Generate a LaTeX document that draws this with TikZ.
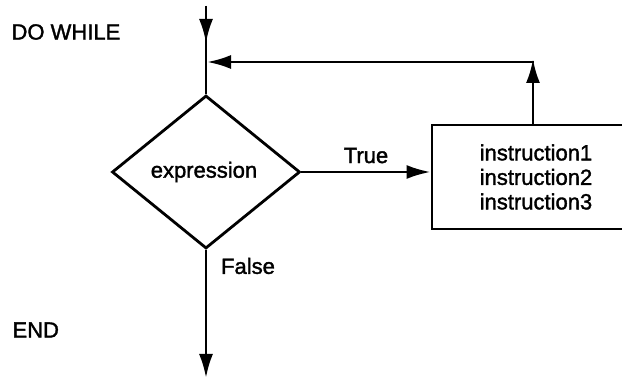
\documentclass[tikz,border=0pt]{standalone}
\usepackage{fontspec}
\setmainfont{Liberation Sans}
\newfontfamily\lblfont[FakeBold=1.6]{Liberation Sans}
\usetikzlibrary{shapes.geometric,arrows.meta}
\begin{document}
\begin{tikzpicture}[x=1pt,y=-1pt,
  every node/.style={font=\lblfont\fontsize{22}{24.5}\selectfont},
  ln/.style={line width=2.8pt},
  arr/.style={ln,-{Latex[length=24pt,width=14pt]}},
  dec/.style={draw,ln,diamond,inner sep=0pt,minimum width=188pt,minimum height=153pt},
  instbox/.style={draw,ln,minimum width=208pt,minimum height=104pt,inner sep=0pt,align=left}]
\useasboundingbox (0,0) rectangle (622,379);
\clip (0,0) rectangle (622,379);
\node[anchor=west] (dowhile) at (8,32) {DO WHILE};
\node[anchor=west] (endl) at (9,330) {END};
\node[dec] (d) at (206,172) {};
\node (expr) at (204,172) {expression};
\node[instbox] (b) at (536,177) {instruction1\\instruction2\\instruction3};
\coordinate (start) at (206,6);
\coordinate (a1) at (206,43);
\coordinate (join) at (207,62);
\coordinate (corner) at (533,62);
\coordinate (bt) at (533,125);
\coordinate (stop) at (206,378);
\draw[ln] (start) -- (d.north);
\draw[arr] (start) -- (a1);
\draw[arr] (bt) -- ([yshift=3pt]corner);
\draw[arr,line cap=rect] (corner) -- (join);
\draw[arr] (d.east) -- (d.east -| b.west) node[midway,above=4pt] (t) {True};
\draw[arr] (d.south) -- (stop);
\node (f) at (248,266) {False};
\end{tikzpicture}
\end{document}
